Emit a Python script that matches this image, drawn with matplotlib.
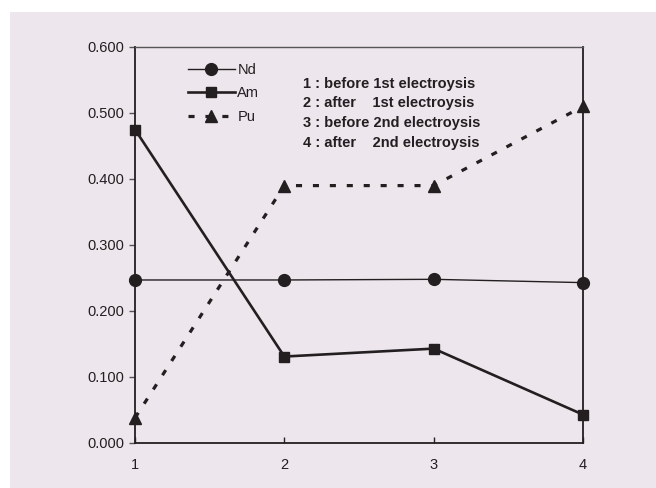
import matplotlib
matplotlib.use("Agg")
import matplotlib.pyplot as plt
from matplotlib.patches import Rectangle

plt.rcParams['font.family'] = ['Liberation Sans', 'DejaVu Sans']

steps = [1, 2, 3, 4]
nd = [0.247, 0.247, 0.248, 0.243]
am = [0.475, 0.131, 0.143, 0.043]
pu = [0.038, 0.390, 0.390, 0.510]
y_ticks = [0.0, 0.1, 0.2, 0.3, 0.4, 0.5, 0.6]
step_notes = [
    "1 : before 1st electroysis",
    "2 : after    1st electroysis",
    "3 : before 2nd electroysis",
    "4 : after    2nd electroysis",
]

bg = "#ede6ed"
ink = "#231f20"

fig = plt.figure(figsize=(6.56, 4.88), dpi=100)
fig.patch.set_facecolor("white")
fig.patches.append(Rectangle((10 / 656, 0), 1 - 10 / 656, 1 - 12 / 488,
                             transform=fig.transFigure, facecolor=bg,
                             edgecolor="none", zorder=-10))

ax = fig.add_axes([135 / 656, 1 - 443 / 488, 448 / 656, 396 / 488])
ax.set_facecolor(bg)

ax.plot(steps, nd, color=ink, lw=1.0, marker="o", ms=8.5, label="Nd", clip_on=False, zorder=3)
ax.plot(steps, am, color=ink, lw=1.9, marker="s", ms=7, label="Am", clip_on=False, zorder=3)
ax.plot(steps, pu, color=ink, lw=2.3, ls=(0, (1.9, 3.4)), marker="^", ms=9, label="Pu",
        clip_on=False, zorder=3)

ax.set_xlim(1, 4)
ax.set_ylim(0, 0.6)
ax.set_xticks(steps)
ax.set_yticks(y_ticks)
ax.set_yticklabels([f"{v:.3f}" for v in y_ticks])
ax.tick_params(axis="x", direction="in", length=4, width=1, color=ink, pad=11,
               labelsize=10.5, labelcolor=ink)
ax.tick_params(axis="y", direction="out", length=4, width=1, color="#555555", pad=4,
               labelsize=10.5, labelcolor=ink)

for side in ["left", "bottom", "right"]:
    ax.spines[side].set_color(ink)
    ax.spines[side].set_linewidth(1.3)
ax.spines["top"].set_color("#555555")
ax.spines["top"].set_linewidth(1.0)

leg = ax.legend(loc="upper left", bbox_to_anchor=(0.105, 0.975), frameon=False,
                fontsize=10.5, handlelength=3.2, handletextpad=0.2, labelspacing=0.65,
                borderaxespad=0)
for t in leg.get_texts():
    t.set_color(ink)

for i, note in enumerate(step_notes):
    ax.text(0.375, 0.907 - i * 0.0495, note, transform=ax.transAxes, fontsize=10.5,
            fontweight="bold", color=ink, va="center", ha="left")

fig.savefig("out.png", dpi=100, facecolor=fig.get_facecolor())
